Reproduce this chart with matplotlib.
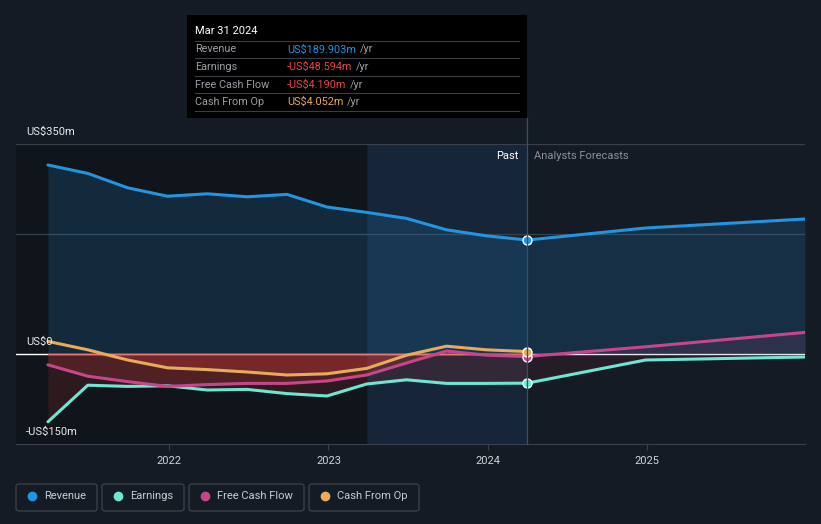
import matplotlib.pyplot as plt
from matplotlib.patches import FancyBboxPatch, Rectangle
from matplotlib.lines import Line2D

plt.rcParams['font.family'] = ['Roboto', 'DejaVu Sans']

# --- Data (US$m) ---
past_dates = [2021.24, 2021.49, 2021.74, 2021.99, 2022.24, 2022.49, 2022.74,
              2022.99, 2023.24, 2023.49, 2023.74, 2023.99, 2024.247]
fc_dates = [2024.247, 2024.99, 2025.99]

revenue_past = [315, 301, 277, 263, 267, 262, 266, 245, 236, 226, 207, 197, 189.903]
revenue_fc = [189.903, 210, 225]
earnings_past = [-113, -52, -54, -53, -60, -59, -66, -70, -50, -43, -49, -49, -48.594]
earnings_fc = [-48.594, -10, -5]
fcf_past = [-18, -37, -46, -54, -51, -49, -49, -45, -35, -15, 5, -2, -4.19]
fcf_fc = [-4.19, 12, 36]
cfo_past = [21, 7, -10, -23, -26, -30, -35, -33, -24, -2, 13, 7, 4.052]

year_ticks = [2022, 2023, 2024, 2025]
legend_names = ["Revenue", "Earnings", "Free Cash Flow", "Cash From Op"]

BG = '#151b25'
C_REV = '#2394df'
C_EARN = '#6ee6d2'
C_FCF = '#c5468a'
C_CFO = '#e8ab5a'
C_NEG = '#e0403a'
NOW = 2024.247

W, H = 821, 524
fig = plt.figure(figsize=(W / 100, H / 100), dpi=100, facecolor=BG)
ax = fig.add_axes([16 / W, (H - 444) / H, (805 - 16) / W, 300 / H])
ax.set_facecolor(BG)
x0 = 2022 - 153 / 159.3
x1 = 2025.99
ax.set_xlim(x0, x1)
ax.set_ylim(-150, 350)

# background bands
ax.axvspan(x0, 2023.24, color='#10141b', zorder=0)
ax.axvspan(2023.24, NOW, color='#1b4a78', alpha=0.22, zorder=0.5, lw=0)

# gridlines
for v in [350, 200]:
    ax.axhline(v, color='#3a404b', lw=0.9, zorder=1)
ax.axhline(0, color='#ffffff', lw=1.0, zorder=1)
ax.plot([past_dates[0], NOW], [0, 0], color='#e07a7a', lw=1.0, zorder=3)

all_dates = past_dates + fc_dates[1:]
all_rev = revenue_past + revenue_fc[1:]
all_earn = earnings_past + earnings_fc[1:]
all_fcf = fcf_past + fcf_fc[1:]

# fills
ax.fill_between(all_dates, all_rev, 0, color=C_REV, alpha=0.17, lw=0, zorder=2)
ax.fill_between(past_dates, earnings_past, 0, color=C_NEG, alpha=0.14, lw=0, zorder=2)
ax.fill_between(past_dates, [min(v, 0) for v in fcf_past], 0, color=C_NEG, alpha=0.2, lw=0, zorder=2)
ax.fill_between(past_dates, [min(v, 0) for v in cfo_past], 0, color=C_NEG, alpha=0.25, lw=0, zorder=2)
ax.fill_between(fc_dates, earnings_fc, 0, color=C_NEG, alpha=0.08, lw=0, zorder=2)
ax.fill_between(fc_dates, [max(v, 0) for v in fcf_fc], 0, color=C_FCF, alpha=0.12, lw=0, zorder=2)

# lines
ax.plot(all_dates, all_rev, color=C_REV, lw=2.2, zorder=4, solid_capstyle='round')
ax.plot(all_dates, all_earn, color=C_EARN, lw=2.2, zorder=4, solid_capstyle='round')
ax.plot(all_dates, all_fcf, color=C_FCF, lw=2.2, zorder=4, solid_capstyle='round')
ax.plot(past_dates, cfo_past, color=C_CFO, lw=2.2, zorder=4, solid_capstyle='round')

# markers at the current date
for val, col in [(revenue_past[-1], C_REV), (earnings_past[-1], C_EARN),
                 (fcf_past[-1], C_FCF), (cfo_past[-1], C_CFO)]:
    ax.plot([NOW], [val], 'o', ms=6.5, color=col, mec='white', mew=1.0, zorder=6)

# axes styling
for s in ['top', 'right', 'left']:
    ax.spines[s].set_visible(False)
ax.spines['bottom'].set_color('#3a404b')
ax.set_yticks([])
ax.set_xticks(year_ticks)
ax.set_xticklabels([str(y) for y in year_ticks], color='#d0d3d8', fontsize=8)
ax.tick_params(axis='x', length=4, color='#3a404b', pad=5)

# y labels
fig.text(26 / W, 1 - 132 / H, 'US$350m', color='#e8eaed', fontsize=8, va='center')
fig.text(26 / W, 1 - 342 / H, 'US$0', color='#e8eaed', fontsize=8, va='center')
fig.text(26 / W, 1 - 432 / H, '-US$150m', color='#e8eaed', fontsize=8, va='center')

# past / forecast labels
fig.text(518 / W, 1 - 156 / H, 'Past', color='#ffffff', fontsize=8, va='center', ha='right')
fig.text(534 / W, 1 - 156 / H, 'Analysts Forecasts', color='#8c9199', fontsize=8, va='center')

# vertical divider
fig.add_artist(Line2D([527 / W, 527 / W], [1 - 118 / H, 1 - 444 / H],
                      color='#255582', lw=0.9, zorder=5))

# tooltip
fig.add_artist(Rectangle((187 / W, 1 - 118 / H), (527 - 187) / W, (118 - 15) / H,
                         transform=fig.transFigure, facecolor='#000000', edgecolor='none', zorder=7))
fig.text(195 / W, 1 - 31 / H, 'Mar 31 2024', color='#ffffff', fontsize=8, va='center', zorder=8)
rows = [("Revenue", "US$189.903m", C_REV),
        ("Earnings", "-US$48.594m", '#ef4444'),
        ("Free Cash Flow", "-US$4.190m", '#ef4444'),
        ("Cash From Op", "US$4.052m", C_CFO)]
for yy in [41, 58, 76, 93, 111]:
    fig.add_artist(Line2D([195 / W, 519 / W], [1 - yy / H, 1 - yy / H], color='#3a3d42', lw=0.8, zorder=8))
fig.canvas.draw()
r = fig.canvas.get_renderer()
for i, (lab, val, col) in enumerate(rows):
    yy = 1 - (49.5 + i * 17.5) / H
    fig.text(195 / W, yy, lab, color='#9a9ea5', fontsize=7.8, va='center', zorder=8)
    t = fig.text(287 / W, yy, val, color=col, fontsize=7.8, va='center', zorder=8)
    bb = t.get_window_extent(renderer=r)
    fig.text((bb.x1 + 4) / W, yy, '/yr', color='#9a9ea5', fontsize=7.8, va='center', zorder=8)

# legend
boxes = [(16, 97), (102, 184), (189, 304), (309, 419)]
for (a, b), name, col in zip(boxes, legend_names, [C_REV, C_EARN, C_FCF, C_CFO]):
    fig.add_artist(FancyBboxPatch((a / W, 1 - 511 / H), (b - a) / W, 27 / H,
                                  boxstyle='round,pad=0,rounding_size=0.004',
                                  transform=fig.transFigure, facecolor='none',
                                  edgecolor='#3d424b', lw=0.9))
    fig.add_artist(Line2D([(a + 16) / W], [1 - 496 / H], marker='o', ms=6,
                          color=col, mec=col, lw=0))
    fig.text((a + 28) / W, 1 - 496 / H, name, color='#c8ccd2', fontsize=8, va='center')

plt.savefig('out.png', dpi=100, facecolor=BG)
